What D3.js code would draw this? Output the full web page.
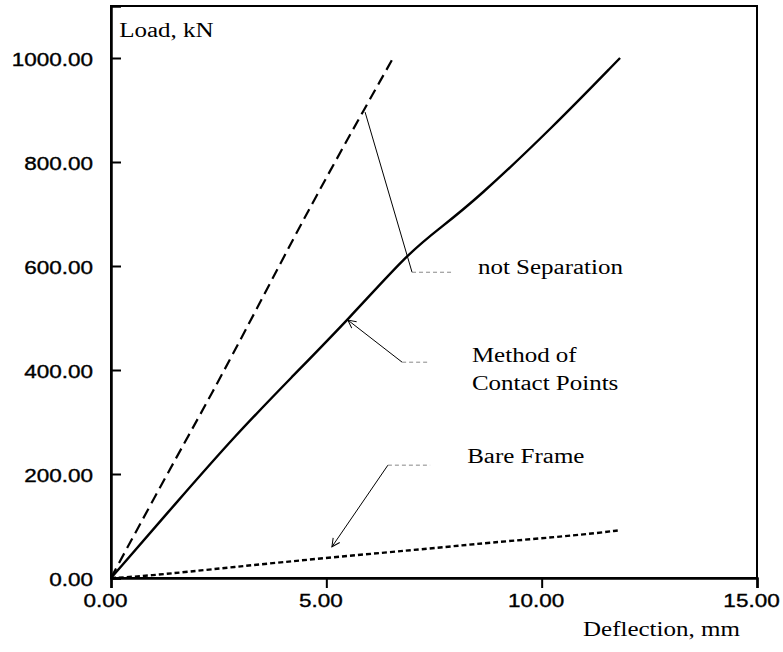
<!DOCTYPE html>
<html lang="en">
<head>
<meta charset="UTF-8">
<title>Load vs Deflection</title>
<script src="https://d3js.org/d3.v7.min.js"></script>
<style>
    body { margin: 0; background: #fff; }
    svg { display: block; }
    .tick-label { font-family: "Liberation Sans", Arial, sans-serif; font-size: 18px; fill: #000; stroke: #000; stroke-width: 0.35; }
    .serif { font-family: "Liberation Serif", "Times New Roman", serif; font-size: 20px; fill: #000; }
</style>
</head>
<body>
<script>
    // ---- data ----
    const xTicks = [0, 5, 10, 15];
    const yTicks = [0, 200, 400, 600, 800, 1000];

    // "not Separation" (long dashes)
    const noSepDefl = [0, 0.31, 1.57, 2.30, 3.37, 4.70, 6.55];
    const noSepLoad = [0, 48, 240, 348, 515, 727, 1000];

    // "Method of Contact Points" (solid)
    const contactDefl = [0, 1.55, 2.86, 4.18, 5.53, 6.89, 7.64, 8.47, 10.26, 11.82];
    const contactLoad = [0, 148, 272, 385, 499, 624, 673, 727, 867, 1000];

    // "Bare Frame" (short dashes)
    const bareDefl = [0, 0.74, 2.83, 5.15, 7.59, 8.64, 10.96, 11.82];
    const bareLoad = [0, 3, 21, 40, 58, 67, 83, 92];

    const W = 783, H = 652;
    const sx = 1.25; // the scan is stretched sideways, so is the lettering

    const x = d3.scaleLinear().domain([0, 15]).range([111, 757]);
    const y = d3.scaleLinear().domain([0, 1100]).range([578, 6]);

    const svg = d3.select("body").append("svg")
        .attr("width", W)
        .attr("height", H);

    // frame
    svg.append("rect")
        .attr("x", x(0)).attr("y", y(1100))
        .attr("width", x(15) - x(0)).attr("height", y(0) - y(1100))
        .attr("fill", "none").attr("stroke", "#000").attr("stroke-width", 2);

    // y axis, ticks point inward
    const yAxis = svg.append("g")
        .attr("transform", `translate(${x(0)},0)`)
        .call(d3.axisLeft(y).tickValues(yTicks).tickSize(-10).tickFormat(d3.format(".2f")));
    yAxis.select(".domain").attr("stroke-width", 2.5);
    yAxis.selectAll(".tick line").attr("stroke-width", 2);
    yAxis.selectAll(".tick text")
        .attr("class", "tick-label")
        .attr("x", null).attr("dy", null)
        .attr("font-family", null).attr("font-size", null)
        .attr("text-anchor", "end")
        .attr("transform", `translate(-18,7) scale(${sx},1)`);

    // x axis, ticks point outward
    const xAxis = svg.append("g")
        .attr("transform", `translate(0,${y(0)})`)
        .call(d3.axisBottom(x).tickValues(xTicks).tickSize(10).tickFormat(d3.format(".2f")));
    xAxis.select(".domain").attr("stroke-width", 2.5);
    xAxis.selectAll(".tick line").attr("stroke-width", 2);
    xAxis.selectAll(".tick text")
        .attr("class", "tick-label")
        .attr("y", null).attr("dy", null)
        .attr("font-family", null).attr("font-size", null)
        .attr("text-anchor", "middle")
        .attr("transform", `translate(-6,29) scale(${sx},1)`);
    svg.selectAll(".domain").attr("fill", "none");

    // curves
    const line = d3.line().x(d => x(d[0])).y(d => y(d[1]));
    const smooth = d3.line().x(d => x(d[0])).y(d => y(d[1])).curve(d3.curveBasis);
    const series = [
        { defl: noSepDefl, load: noSepLoad, dash: "11,6", width: 2.2 },
        { defl: contactDefl, load: contactLoad, dash: null, width: 2.4 },
        { defl: bareDefl, load: bareLoad, dash: "5,3", width: 2.4 }
    ];
    svg.selectAll(".curve")
        .data(series)
        .enter().append("path")
        .attr("class", "curve")
        .attr("d", s => smooth(s.defl.map((v, i) => [v, s.load[i]])))
        .attr("fill", "none")
        .attr("stroke", "#000")
        .attr("stroke-width", s => s.width)
        .attr("stroke-dasharray", s => s.dash);

    // open arrow head for leaders
    svg.append("defs").append("marker")
        .attr("id", "arrow")
        .attr("viewBox", "-10 -6 12 12")
        .attr("refX", 0).attr("refY", 0)
        .attr("markerWidth", 12).attr("markerHeight", 12)
        .attr("markerUnits", "userSpaceOnUse")
        .attr("orient", "auto")
        .append("path")
        .attr("d", "M-8,-4 L0,0 L-8,4")
        .attr("fill", "none").attr("stroke", "#000").attr("stroke-width", 1);

    // leaders in data units, with a faint tail towards the label
    const leaders = [
        { pts: [[5.90, 896], [6.99, 588]], from: [6.99, 588], tail: [7.94, 588], arrow: false },
        { pts: [[6.76, 415], [5.50, 496]], from: [6.76, 415], tail: [7.36, 415], arrow: true },
        { pts: [[6.43, 217], [5.13, 60]], from: [6.43, 217], tail: [7.41, 217], arrow: true }
    ];
    leaders.forEach(l => {
        svg.append("path")
            .attr("d", line(l.pts))
            .attr("fill", "none").attr("stroke", "#000").attr("stroke-width", 1)
            .attr("marker-end", l.arrow ? "url(#arrow)" : null);
        svg.append("path")
            .attr("d", line([l.from, l.tail]))
            .attr("fill", "none").attr("stroke", "#888").attr("stroke-width", 1)
            .attr("stroke-dasharray", "4,3");
    });

    // labels in data units
    const labels = [
        { text: "not Separation", at: [8.52, 585] },
        { text: "Method of", at: [8.38, 415] },
        { text: "Contact Points", at: [8.38, 362] },
        { text: "Bare Frame", at: [8.27, 221] },
        { text: "Load, kN", at: [0.19, 1040] }
    ];
    svg.selectAll(".note")
        .data(labels)
        .enter().append("text")
        .attr("class", "note serif")
        .attr("transform", d => `translate(${x(d.at[0])},${y(d.at[1])}) scale(${sx},1)`)
        .text(d => d.text);

    svg.append("text")
        .attr("class", "serif")
        .attr("transform", `translate(${x(10.96)},${y(0) + 58}) scale(${sx},1)`)
        .text("Deflection, mm");
</script>
</body>
</html>
